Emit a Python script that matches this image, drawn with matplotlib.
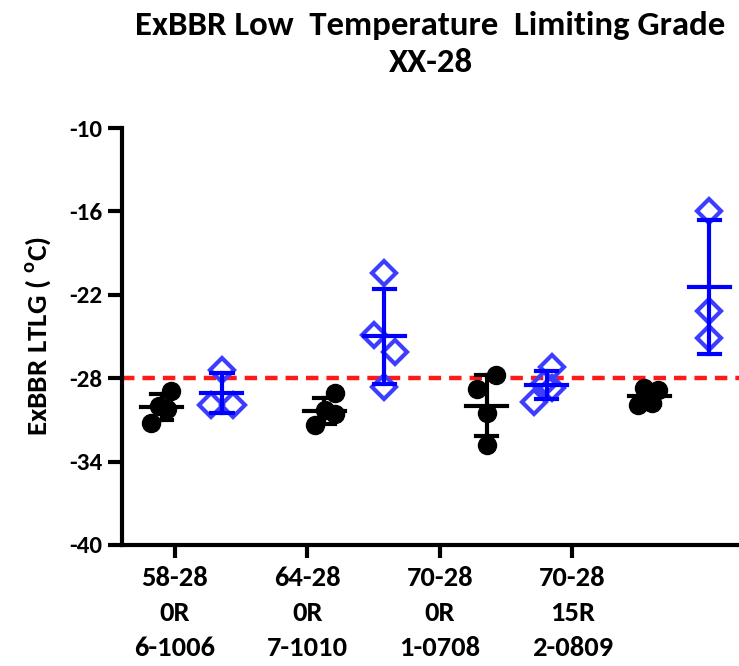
import numpy as np
import matplotlib.pyplot as plt

plt.rcParams['font.family'] = 'Carlito'
plt.rcParams['font.weight'] = 'bold'
plt.rcParams['axes.unicode_minus'] = False
plt.rcParams['mathtext.fontset'] = 'custom'
plt.rcParams['mathtext.rm'] = 'Carlito:bold'
plt.rcParams['mathtext.bf'] = 'Carlito:bold'

labels = ['58-28\n0R\n6-1006', '64-28\n0R\n7-1010', '70-28\n0R\n1-0708', '70-28\n15R\n2-0809']

# black dots (first set) and blue diamonds (second set), degC
black_vals = [
    [-28.9, -30.0, -30.2, -31.2],
    [-29.1, -30.3, -30.6, -31.4],
    [-27.8, -28.8, -30.5, -32.8],
    [-28.7, -28.85, -29.8, -29.9],
]
blue_vals = [
    [-27.4, -29.9, -29.9],
    [-20.4, -24.9, -26.1, -28.6],
    [-27.2, -28.4, -28.7, -29.7],
    [-16.0, -23.2, -25.1],
]
# horizontal scatter of the points
black_jit = [
    [0.07, -0.02, 0.04, -0.08],
    [0.08, 0.01, 0.08, -0.07],
    [0.07, -0.07, 0.0, 0.0],
    [-0.04, 0.07, 0.02, -0.08],
]
blue_jit = [
    [0.0, -0.08, 0.08],
    [0.0, -0.08, 0.08, 0.0],
    [0.04, -0.02, 0.04, -0.1],
    [0.0, 0.0, 0.0],
]
limit = -28

fig = plt.figure(figsize=(7.39, 6.66), dpi=100)
ax = fig.add_axes([0.165, 0.1817, 0.835, 0.6261])

tick_pos = np.arange(1, 5)
centers = 0.90 + 1.227 * np.arange(4)
blue_off = 0.455

ax.axhline(limit, color='#ff1a1a', lw=3.2, ls=(0, (2.8, 1.8)), zorder=1)

for i in range(4):
    bx = centers[i]
    ux = centers[i] + blue_off
    bv = np.array(black_vals[i])
    uv = np.array(blue_vals[i])
    ax.plot(bx + np.array(black_jit[i]), bv, 'o', color='black', ms=13, zorder=3)
    ax.plot(ux + np.array(blue_jit[i]), uv, 'D', mfc='none', mec='#3d3dff',
            mew=3, ms=12.5, zorder=3)
    for x0, v, c in [(bx, bv, 'black'), (ux, uv, '#0000ff')]:
        m = v.mean()
        s = v.std(ddof=1)
        ax.plot([x0, x0], [m - s, m + s], color=c, lw=3, zorder=4)
        ax.plot([x0 - 0.08, x0 + 0.08], [m + s, m + s], color=c, lw=3, zorder=4)
        ax.plot([x0 - 0.08, x0 + 0.08], [m - s, m - s], color=c, lw=3, zorder=4)
        ax.plot([x0 - 0.155, x0 + 0.155], [m, m], color=c, lw=3, zorder=4)

ax.set_xlim(0.6, 5.26)
ax.set_ylim(-40, -10)
ax.set_yticks(np.arange(-40, -9, 6))
ax.set_xticks(tick_pos)
ax.set_xticklabels(labels, fontsize=20.5, fontweight='bold', linespacing=1.55)
ax.tick_params(axis='y', labelsize=18, width=3, length=10, pad=4)
ax.tick_params(axis='x', width=3, length=9, pad=6)
for t in ax.get_yticklabels():
    t.set_fontweight('bold')

ax.spines['top'].set_visible(False)
ax.spines['right'].set_visible(False)
ax.spines['left'].set_linewidth(3)
ax.spines['bottom'].set_linewidth(3)

ax.set_ylabel(r'ExBBR LTLG ( $^{\mathrm{o}}$C)', fontsize=21, fontweight='bold', labelpad=12)
ax.set_title('ExBBR Low  Temperature  Limiting Grade\nXX-28', fontsize=25,
             fontweight='bold', pad=40, linespacing=1.35)

fig.savefig('out.png', dpi=100)
